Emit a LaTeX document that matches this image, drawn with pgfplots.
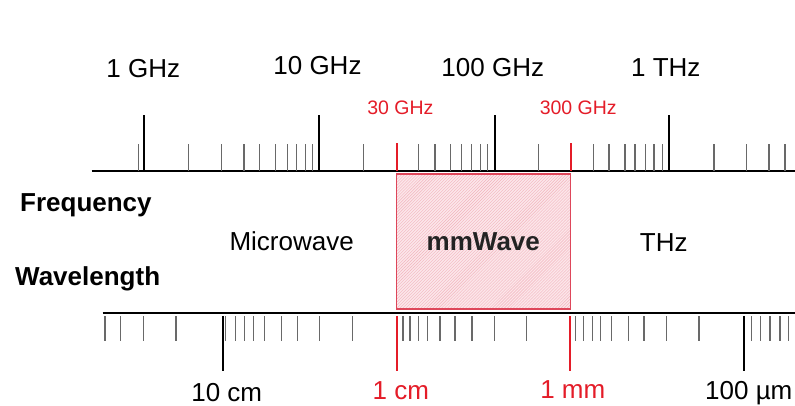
\documentclass[border=0pt]{standalone}
\usepackage{pgfplots}
\pgfplotsset{compat=1.18}
\usepackage{fontspec}
\setmainfont{Liberation Sans}
\usetikzlibrary{patterns}
\definecolor{myred}{RGB}{228,28,40}
\definecolor{boxred}{RGB}{222,70,90}
\definecolor{boxfill}{RGB}{252,230,234}
\definecolor{hatch}{RGB}{242,180,188}
\definecolor{tickgray}{RGB}{105,105,105}
\newcommand{\bigf}{\fontsize{26bp}{30bp}\selectfont}
\newcommand{\smallf}{\fontsize{19.5bp}{23bp}\selectfont}
\pgfplotsset{
  tickup/.style n args={3}{draw=none, mark=none,
    error bars/.cd, y dir=plus, y fixed=#1, error mark=none,
    error bar style={draw=#2, line width=#3}},
  tickdown/.style n args={3}{draw=none, mark=none,
    error bars/.cd, y dir=minus, y fixed=#1, error mark=none,
    error bar style={draw=#2, line width=#3}},
}
\begin{document}
\begin{tikzpicture}
\begin{axis}[
  scale only axis, width=795bp, height=406bp,
  xmode=log, xmin=0.15036, xmax=5248, ymin=0, ymax=406,
  hide axis, clip=false,
]
% mmWave band box (30 GHz -- 300 GHz)
\addplot[draw=boxred, line width=1.5bp, fill=boxfill,
  postaction={pattern=north east lines, pattern color=hatch}]
  coordinates {(27.8,97) (274,97) (274,232) (27.8,232)} -- cycle;
% baselines
\addplot[black, line width=2bp] coordinates {(0.5026,235) (5248,235)};
\addplot[black, line width=2bp] coordinates {(0.5808,93.3) (5248,93.3)};
% frequency minor ticks (GHz)
\addplot[tickup={27}{tickgray}{1.5bp}] table[x=f, y expr=235] {
f
0.928
1.791
2.780
3.728
4.559
5.656
6.59
7.46
8.39
9.20
17.91
36.93
46.0
56.57
65.38
74.6
83.95
91.5
179.1
369.3
454.0
560.6
639.3
736.0
821.0
915.7
1807
2780
3728
4601
};
% frequency major ticks
\addplot[tickup={56}{black}{2bp}] table[x=f, y expr=235] {
f
1
10
101
1000
};
% frequency red ticks (30 GHz, 300 GHz)
\addplot[tickup={28}{myred}{2bp}] table[x=f, y expr=235] {
f
27.8
274
};
% wavelength minor ticks (equivalent GHz)
\addplot[tickdown={25}{tickgray}{1.5bp}] table[x=f, y expr=89.5] {
f
0.5986
0.7359
0.9908
1.523
2.930
3.342
3.743
4.212
4.869
6.121
7.516
10.04
15.58
30.2
33.11
36.93
41.69
49.14
59.86
74.85
100.4
153.8
293.0
323.8
366.4
407.1
470.6
585.5
719.6
970.3
1484
2970
3342
3777
4309
4806
};
% wavelength major ticks (10 cm, 100 um)
\addplot[tickdown={55.5}{black}{2bp}] table[x=f, y expr=90] {
f
2.817
2694
};
% wavelength red ticks (1 cm, 1 mm)
\addplot[tickdown={55.5}{myred}{2bp}] table[x=f, y expr=90] {
f
27.8
272
};
% labels
\begin{scope}[every node/.style={inner sep=0pt, anchor=base}]
\node[font=\bigf] at (axis cs:0.991,328.7) {1 GHz};
\node[font=\bigf] at (axis cs:9.80,331) {10 GHz};
\node[font=\bigf] at (axis cs:98.4,329.3) {100 GHz};
\node[font=\bigf] at (axis cs:958.7,329.3) {1 THz};
\node[font=\smallf, text=myred] at (axis cs:29.15,291) {30 GHz};
\node[font=\smallf, text=myred] at (axis cs:303.1,291) {300 GHz};
\node[font=\bigf\bfseries, anchor=base west] at (axis cs:0.1956,194.3) {Frequency};
\node[font=\bigf\bfseries, anchor=base west] at (axis cs:0.1832,120) {Wavelength};
\node[font=\bigf] at (axis cs:6.982,155) {Microwave};
\node[font=\bigf\bfseries, text={rgb,255:red,35;green,35;blue,35}] at (axis cs:86.89,155.3) {mmWave};
\node[font=\bigf] at (axis cs:933.9,154.3) {THz};
\node[font=\bigf] at (axis cs:2.969,5) {10 cm};
\node[font=\bigf, text=myred] at (axis cs:29.34,7) {1 cm};
\node[font=\bigf, text=myred] at (axis cs:282.0,7.7) {1 mm};
\node[font=\bigf] at (axis cs:2858,6.7) {100 µm};
\end{scope}
\end{axis}
\pgfresetboundingbox
\useasboundingbox (0,0) rectangle (795bp,406bp);
\end{tikzpicture}
\end{document}
